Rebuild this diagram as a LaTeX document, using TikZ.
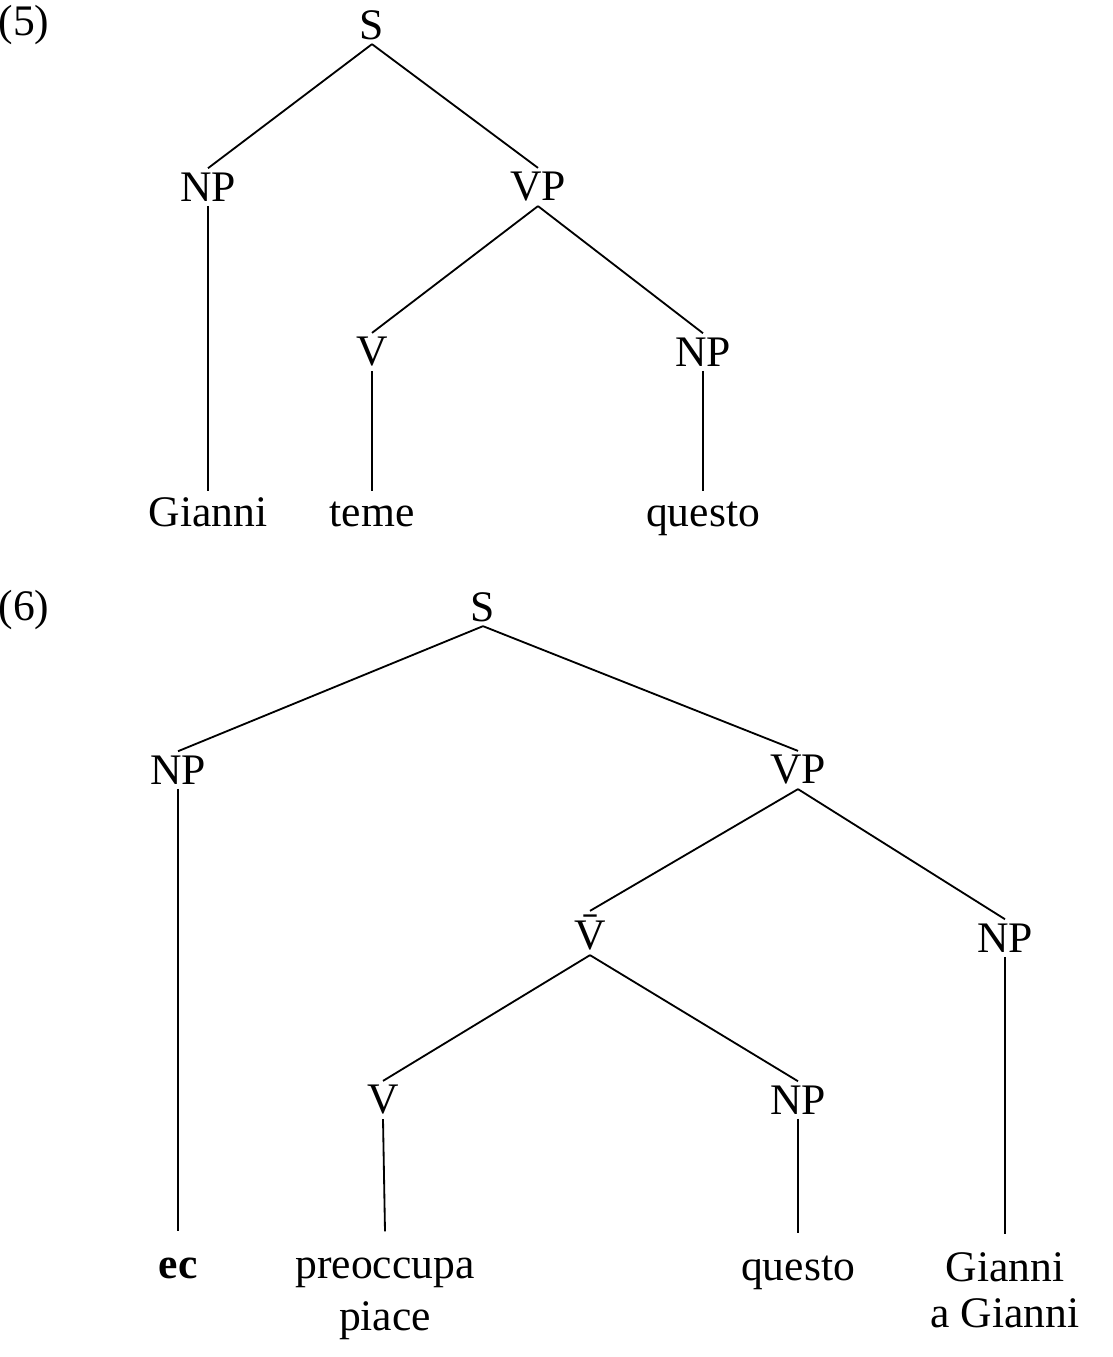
\documentclass[tikz,border=0pt]{standalone}
\usepackage{fontspec}
\setmainfont{Liberation Serif}
\usepackage{tikz}

\newcommand{\twolines}[3][0pt]{\begin{tabular}[t]{@{}c@{}}#2\\[#1]#3\end{tabular}}

\tikzset{
  cat/.style={font=\fontsize{31}{37}\selectfont, inner sep=3pt},
  leaf/.style={cat, anchor=base, inner sep=2pt, text height=22.5pt},
  leafsix/.style={leaf, text height=31pt},
  branch/.style={line width=1.3pt}
}

\begin{document}
\begin{tikzpicture}[x=0.025cm,y=-0.025cm]
\useasboundingbox (0,0) rectangle (1113,1357);

\node [cat] (ex5) at (24,25) {(5)};
\node [cat] (s5) at (372,25) {S};
\node [cat] (np5) at (208,187) {NP};
\node [cat] (vp5) at (538,187) {VP};
\node [cat] (v5) at (372,352) {V};
\node [cat] (npo5) at (703,352) {NP};
\node [leaf] (gianni5) at (208,526) {Gianni};
\node [leaf] (teme5) at (372,526) {teme};
\node [leaf] (questo5) at (703,526) {questo};

\draw [branch] (s5.south) -- (np5.north) ;
\draw [branch] (s5.south) -- (vp5.north) ;
\draw [branch] (np5.south) -- (gianni5.north) ;
\draw [branch] (vp5.south) -- (v5.north) ;
\draw [branch] (vp5.south) -- (npo5.north) ;
\draw [branch] (v5.south) -- (teme5.north) ;
\draw [branch] (npo5.south) -- (questo5.north) ;

\node [cat] (ex6) at (24,610) {(6)};
\node [cat] (s6) at (483,607) {S};
\node [cat] (np6) at (178,770) {NP};
\node [cat] (vp6) at (798,770) {VP};
\node [cat] (vb6) at (590,933) {\=V};
\node [cat] (npi6) at (1005,938) {NP};
\node [cat] (v6) at (383,1100) {V};
\node [cat] (npo6) at (798,1100) {NP};
\node [leafsix] (ec6) at (178,1278) {\textbf{ec}};
\node [leafsix] (pred6) at (385,1278) {\twolines{preoccupa}{piace}};
\node [leafsix] (questo6) at (798,1280) {questo};
\node [leafsix] (gianni6) at (1005,1281) {\twolines[-4pt]{Gianni}{a Gianni}};

\draw [branch] (s6.south) -- (np6.north) ;
\draw [branch] (s6.south) -- (vp6.north) ;
\draw [branch] (np6.south) -- (ec6.north) ;
\draw [branch] (vp6.south) -- (vb6.north) ;
\draw [branch] (vp6.south) -- (npi6.north) ;
\draw [branch] (vb6.south) -- (v6.north) ;
\draw [branch] (vb6.south) -- (npo6.north) ;
\draw [branch] (v6.south) -- (pred6.north) ;
\draw [branch] (npo6.south) -- (questo6.north) ;
\draw [branch] (npi6.south) -- (gianni6.north) ;
\end{tikzpicture}
\end{document}
